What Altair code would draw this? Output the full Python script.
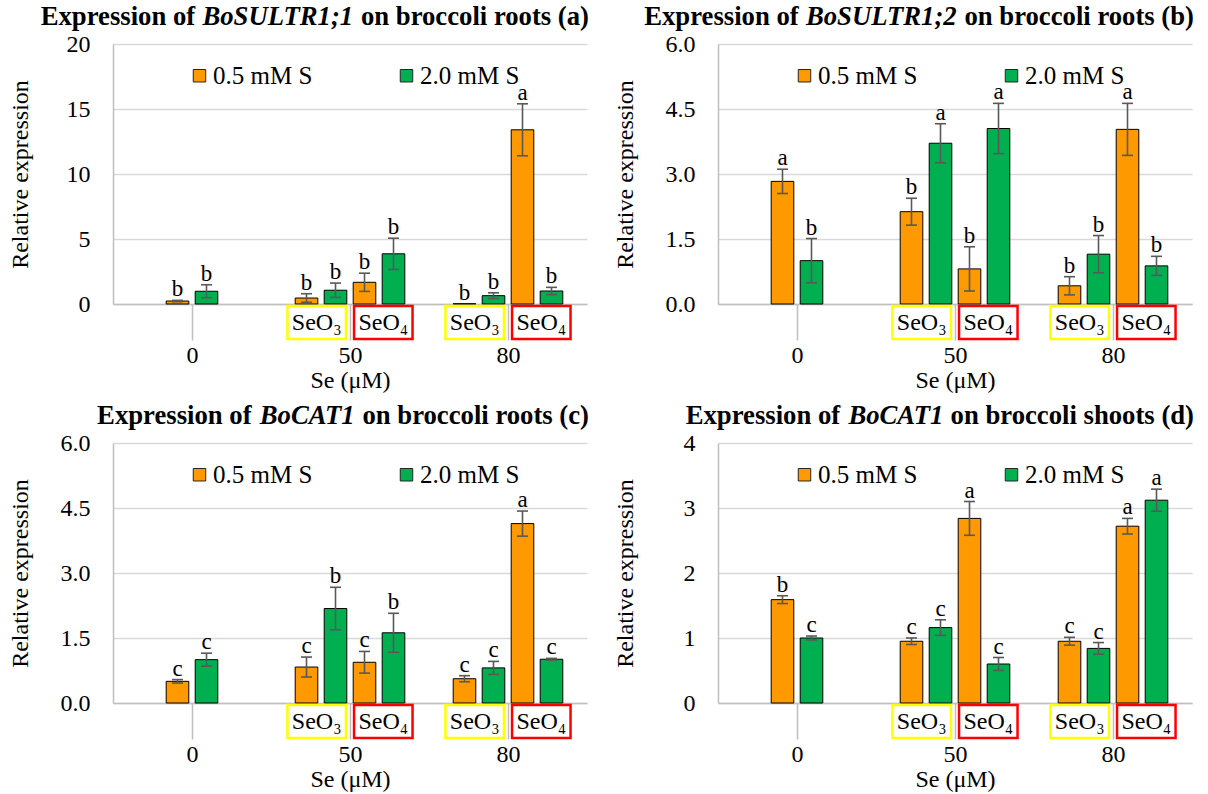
import altair as alt
import pandas as pd

FONT = "Liberation Serif"
ORANGE = "#FF9900"
GREEN = "#00B050"
ERR_COLOR = "#595959"
AXIS_GRAY = "#BFBFBF"
GRID_GRAY = "#D9D9D9"

# ---------------- data ----------------
se_levels = ["0", "50", "80"]
group_cat = [0, 1, 1, 2, 2]
group_form = ["none", "SeO3", "SeO4", "SeO3", "SeO4"]
series_names = ["0.5 mM S", "2.0 mM S"]
form_labels = {"SeO3": "SeO\u2083", "SeO4": "SeO\u2084"}
form_colors = {"SeO3": "#FFFF00", "SeO4": "#FF0000"}

# panel (a) BoSULTR1;1 roots
a_low_mean = [0.23, 0.46, 1.67, 0.02, 13.4]
a_low_err = [0.05, 0.33, 0.70, 0.00, 2.00]
a_low_let = ["b", "b", "b", "b", "a"]
a_high_mean = [0.98, 1.06, 3.86, 0.64, 1.00]
a_high_err = [0.50, 0.55, 1.20, 0.22, 0.28]
a_high_let = ["b", "b", "b", "b", "b"]

# panel (b) BoSULTR1;2 roots
b_low_mean = [2.83, 2.13, 0.81, 0.42, 4.03]
b_low_err = [0.28, 0.31, 0.51, 0.21, 0.60]
b_low_let = ["a", "b", "b", "b", "a"]
b_high_mean = [1.00, 3.71, 4.05, 1.15, 0.88]
b_high_err = [0.51, 0.45, 0.58, 0.43, 0.22]
b_high_let = ["b", "a", "a", "b", "b"]

# panel (c) BoCAT1 roots
c_low_mean = [0.50, 0.83, 0.94, 0.56, 4.14]
c_low_err = [0.04, 0.23, 0.25, 0.07, 0.29]
c_low_let = ["c", "c", "c", "c", "a"]
c_high_mean = [1.00, 2.18, 1.62, 0.81, 1.01]
c_high_err = [0.15, 0.49, 0.45, 0.15, 0.02]
c_high_let = ["c", "b", "b", "c", "c"]

# panel (d) BoCAT1 shoots
d_low_mean = [1.59, 0.95, 2.84, 0.95, 2.72]
d_low_err = [0.06, 0.05, 0.26, 0.06, 0.12]
d_low_let = ["b", "c", "a", "c", "a"]
d_high_mean = [1.00, 1.16, 0.60, 0.84, 3.12]
d_high_err = [0.03, 0.12, 0.10, 0.09, 0.17]
d_high_let = ["c", "c", "c", "c", "a"]

# ---------------- layout constants ----------------
PW, PH = 474, 260
NCAT = 3
PXU = PW / NCAT  # pixels per category unit
STEP = 29 / PXU
BW = 22.6 / PXU
CAP = 11 / PXU
BOX_OFF = 33.3 / PXU
BOX_W = 58.5 / PXU
TITLE_SIZE = 26.7
TXT = 24
LEG = 25

BOLD = {" ": 250, "(": 333, ")": 333, "a": 500, "b": 556, "c": 444, "d": 556,
        "e": 444, "h": 556, "i": 278, "l": 278, "n": 556, "o": 500, "r": 444,
        "s": 389, "t": 333, "E": 667, "x": 500, "p": 556, "f": 333}
BOLDIT = {"B": 667, "o": 500, "S": 556, "U": 722, "L": 611, "T": 611, "R": 667,
          "C": 667, "A": 667, "1": 500, "2": 500, ";": 333}


def tw(s, table, size):
    return sum(table.get(ch, 500) for ch in s) / 1000 * size


def panel(low_mean, low_err, low_let, high_mean, high_err, high_let,
          ymax, yvals, yfmt, title_parts):
    rows = []
    for gi in range(5):
        cat = group_cat[gi]
        pair = {"none": 0, "SeO3": -1, "SeO4": 1}[group_form[gi]]
        trip = [(low_mean[gi], low_err[gi], low_let[gi]),
                (high_mean[gi], high_err[gi], high_let[gi])]
        for si, (m, e, l) in enumerate(trip):
            xc = cat + 0.5 + (pair + (si - 0.5)) * STEP
            rows.append(dict(series=series_names[si], xc=xc, x0=xc - BW / 2,
                             x1=xc + BW / 2, mean=m, zero=0.0, lo=m - e, hi=m + e,
                             c0=xc - CAP / 2, c1=xc + CAP / 2, letter=l, err=e))
    df = pd.DataFrame(rows)
    dferr = df[df["err"] > 0]

    boxes = []
    for gi in range(5):
        f = group_form[gi]
        if f == "none":
            continue
        sgn = -1 if f == "SeO3" else 1
        bc = group_cat[gi] + 0.5 + sgn * BOX_OFF
        boxes.append(dict(bx0=bc - BOX_W / 2, bx1=bc + BOX_W / 2, bxc=bc,
                          label=form_labels[f], col=form_colors[f]))
    dfb = pd.DataFrame(boxes)

    xscale = alt.Scale(domain=[0, NCAT], nice=False, zero=False)
    yscale = alt.Scale(domain=[0, ymax], nice=False)
    label_expr = "[" + ",".join("'%s'" % s for s in se_levels) + "][floor(datum.value)]"
    xaxis = alt.Axis(values=[0.5, 1.5, 2.5], labelExpr=label_expr, tickSize=36,
                     tickColor=AXIS_GRAY, tickWidth=1.5, domainColor=AXIS_GRAY,
                     domainWidth=1.5, labelPadding=3, labelFontSize=TXT,
                     labelFont=FONT, labelColor="black",
                     labelFlush=False, labelOverlap=False, grid=False,
                     title="Se (\u03bcM)", titleFontSize=TXT, titleFont=FONT,
                     titleColor="black", titleFontWeight="normal", titlePadding=1)
    yaxis_kw = dict(values=yvals, ticks=False, domainColor=AXIS_GRAY, domainWidth=1.5,
                    gridColor=GRID_GRAY, gridWidth=1.5, labelPadding=23,
                    labelFontSize=TXT, labelFont=FONT, labelColor="black",
                    title="Relative expression", titleFontSize=TXT, titleFont=FONT,
                    titleColor="black", titleFontWeight="normal",
                    titleAngle=270, titleX=-93, titleY=PH / 2, titleBaseline="middle",
                    titleAlign="center")
    if yfmt:
        yaxis_kw["format"] = yfmt
    yaxis = alt.Axis(**yaxis_kw)

    def X(field):
        return alt.X(field, scale=xscale, axis=xaxis)

    def Y(field):
        return alt.Y(field, scale=yscale, axis=yaxis)

    bars = alt.Chart(df).mark_bar(stroke="black", strokeWidth=1).encode(
        x=X("x0:Q"),
        x2="x1:Q",
        y=Y("mean:Q"),
        y2="zero:Q",
        color=alt.Color("series:N",
                        scale=alt.Scale(domain=series_names, range=[ORANGE, GREEN]),
                        legend=alt.Legend(orient="none", legendX=74, legendY=19,
                                          direction="horizontal", title=None,
                                          labelFont=FONT, labelFontSize=LEG,
                                          labelColor="black", symbolType="square",
                                          symbolSize=156, symbolStrokeColor="#262626",
                                          symbolStrokeWidth=1, columnPadding=81,
                                          labelOffset=1, padding=0)),
    )
    errs = alt.Chart(dferr).mark_rule(color=ERR_COLOR, strokeWidth=1.6).encode(
        x=X("xc:Q"), y=Y("lo:Q"), y2="hi:Q")
    cap_hi = alt.Chart(dferr).mark_rule(color=ERR_COLOR, strokeWidth=1.6).encode(
        x=X("c0:Q"), x2="c1:Q", y=Y("hi:Q"))
    cap_lo = alt.Chart(dferr).mark_rule(color=ERR_COLOR, strokeWidth=1.6).encode(
        x=X("c0:Q"), x2="c1:Q", y=Y("lo:Q"))
    letters = alt.Chart(df).mark_text(font=FONT, fontSize=23, color="black",
                                      baseline="alphabetic", dy=-4).encode(
        x=X("xc:Q"), y=Y("hi:Q"), text="letter:N")
    box = alt.Chart(dfb).mark_rect(fill="white", strokeWidth=2.5).encode(
        x=X("bx0:Q"), x2="bx1:Q",
        y=alt.value(PH + 2), y2=alt.value(PH + 35),
        stroke=alt.Stroke("col:N", scale=None))
    box_txt = alt.Chart(dfb).mark_text(font=FONT, fontSize=TXT, color="black",
                                       baseline="middle").encode(
        x=X("bxc:Q"), y=alt.value(PH + 19), text="label:N")

    pre, gene, post = title_parts
    right = PW + 2
    sp = tw(" ", BOLD, TITLE_SIZE)
    gene_right = right - tw(post, BOLD, TITLE_SIZE) - sp
    pre_right = gene_right - tw(gene, BOLDIT, TITLE_SIZE) - sp
    tdf = pd.DataFrame({"pre": [pre], "gene": [gene], "post": [post]})
    t_kw = dict(font=FONT, fontSize=TITLE_SIZE, fontWeight="bold", color="black",
                align="right", baseline="middle")
    t1 = alt.Chart(tdf).mark_text(**t_kw).encode(
        x=alt.value(pre_right), y=alt.value(-27), text="pre:N")
    t2 = alt.Chart(tdf).mark_text(fontStyle="italic", **t_kw).encode(
        x=alt.value(gene_right), y=alt.value(-27), text="gene:N")
    t3 = alt.Chart(tdf).mark_text(**t_kw).encode(
        x=alt.value(right), y=alt.value(-27), text="post:N")

    return alt.layer(bars, errs, cap_hi, cap_lo, letters, box, box_txt, t1, t2, t3
                     ).properties(width=PW, height=PH)


pa = panel(a_low_mean, a_low_err, a_low_let, a_high_mean, a_high_err, a_high_let,
           20, [0, 5, 10, 15, 20], None,
           ("Expression of", "BoSULTR1;1", "on broccoli roots (a)"))
pb = panel(b_low_mean, b_low_err, b_low_let, b_high_mean, b_high_err, b_high_let,
           6, [0, 1.5, 3, 4.5, 6], ".1f",
           ("Expression of", "BoSULTR1;2", "on broccoli roots (b)"))
pc = panel(c_low_mean, c_low_err, c_low_let, c_high_mean, c_high_err, c_high_let,
           6, [0, 1.5, 3, 4.5, 6], ".1f",
           ("Expression of", "BoCAT1", "on broccoli roots (c)"))
pd_ = panel(d_low_mean, d_low_err, d_low_let, d_high_mean, d_high_err, d_high_let,
            4, [0, 1, 2, 3, 4], None,
            ("Expression of", "BoCAT1", "on broccoli shoots (d)"))

row1 = alt.hconcat(pa, pb, spacing=22).resolve_scale(
    color="independent", x="independent", y="independent").resolve_legend(color="independent")
row2 = alt.hconcat(pc, pd_, spacing=22).resolve_scale(
    color="independent", x="independent", y="independent").resolve_legend(color="independent")

chart = alt.vconcat(row1, row2, spacing=9).resolve_scale(
    color="independent").resolve_legend(color="independent").properties(
    padding={"left": 7, "top": 3, "right": 0, "bottom": 0},
    background="white",
).configure_view(stroke="transparent").configure_axis(
    labelFont=FONT, titleFont=FONT, labelColor="black", titleColor="black",
    titleFontWeight="normal")

chart.save("out.html", embed_options={"renderer": "svg", "actions": False})
